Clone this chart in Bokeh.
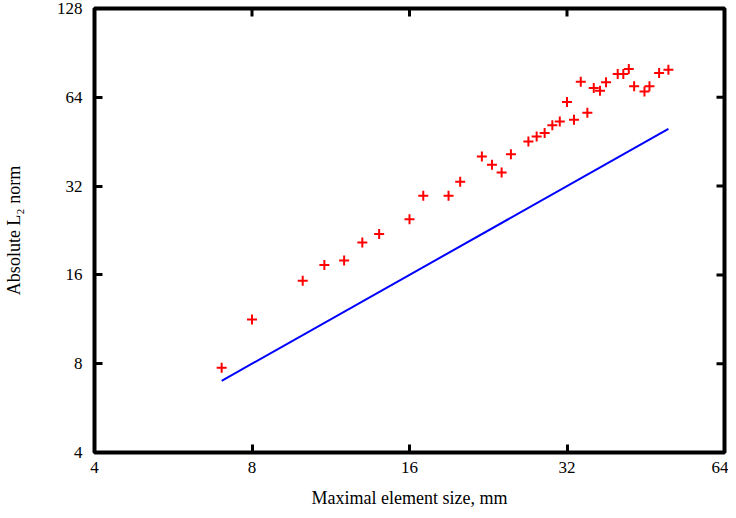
import math
from bokeh.plotting import figure
from bokeh.models import Range1d, FixedTicker, NumeralTickFormatter
from bokeh.embed import file_html
from bokeh.resources import INLINE

# Data
elem_size = [7, 8, 10, 11, 12, 13, 14, 16, 17, 19, 20, 22, 23, 24, 25, 27, 28, 29,
             30, 31, 32, 33, 34, 35, 36, 37, 38, 40, 41, 42, 43, 45, 46, 48, 50]
l2_norm = [7.75, 11.3, 15.3, 17.3, 17.9, 20.6, 22.0, 24.7, 29.7, 29.7, 33.1, 40.3, 37.8,
           35.6, 41.0, 45.3, 47.1, 48.4, 51.5, 53.0, 61.7, 53.7, 72.2, 56.7, 68.8, 67.4,
           72.0, 76.8, 76.8, 79.8, 69.8, 67.0, 69.8, 77.4, 79.4]
ref_x = [7, 50]
ref_y = [7, 50]
x_ticks = [4, 8, 16, 32, 64]
y_ticks = [4, 8, 16, 32, 64, 128]
x_min, x_max = 4, 64
y_min, y_max = 4, 128

FONT = "Liberation Serif"

p = figure(width=728, height=510, x_axis_type="log", y_axis_type="log",
           x_range=Range1d(x_min, x_max), y_range=Range1d(y_min, y_max),
           output_backend="svg", toolbar_location=None,
           min_border_left=86, min_border_right=4, min_border_top=8, min_border_bottom=0)

p.xgrid.visible = False
p.ygrid.visible = False
p.outline_line_color = "black"
p.outline_line_width = 4
p.outline_line_alpha = 1.0
p.background_fill_color = "white"
p.border_fill_color = "white"

for ax, ticks in ((p.xaxis[0], x_ticks), (p.yaxis[0], y_ticks)):
    ax.ticker = FixedTicker(ticks=ticks, minor_ticks=[])
    ax.formatter = NumeralTickFormatter(format="0")
    ax.axis_line_color = None
    ax.major_tick_in = 8
    ax.major_tick_out = 0
    ax.major_tick_line_width = 3
    ax.major_tick_line_color = "black"
    ax.minor_tick_line_color = None
    ax.major_label_text_font = FONT
    ax.major_label_text_font_size = "17px"
    ax.major_label_text_color = "black"
    ax.axis_label_text_font = FONT
    ax.axis_label_text_font_size = "18px"
    ax.axis_label_text_font_style = "normal"
    ax.axis_label_text_color = "black"

p.xaxis[0].major_label_standoff = 9
p.yaxis[0].major_label_standoff = 12
p.xaxis[0].axis_label = "Maximal element size, mm"
p.yaxis[0].axis_label = "Absolute L\u2082 norm"
p.xaxis[0].axis_label_standoff = 12
p.yaxis[0].axis_label_standoff = 30

# mirrored ticks on the right and top edges of the frame
inner_y = y_ticks[1:-1]
inner_x = x_ticks[1:-1]
p.ray(x=[x_max] * len(inner_y), y=inner_y, length=8, length_units="screen",
      angle=math.pi, line_color="black", line_width=3)
p.ray(x=inner_x, y=[y_max] * len(inner_x), length=8, length_units="screen",
      angle=-math.pi / 2, line_color="black", line_width=3)

p.line(ref_x, ref_y, line_color="#0000ff", line_width=2)
p.scatter(elem_size, l2_norm, marker="cross", size=10, line_color="#ff0000", line_width=2)

open("out.html", "w").write(file_html(p, INLINE))
